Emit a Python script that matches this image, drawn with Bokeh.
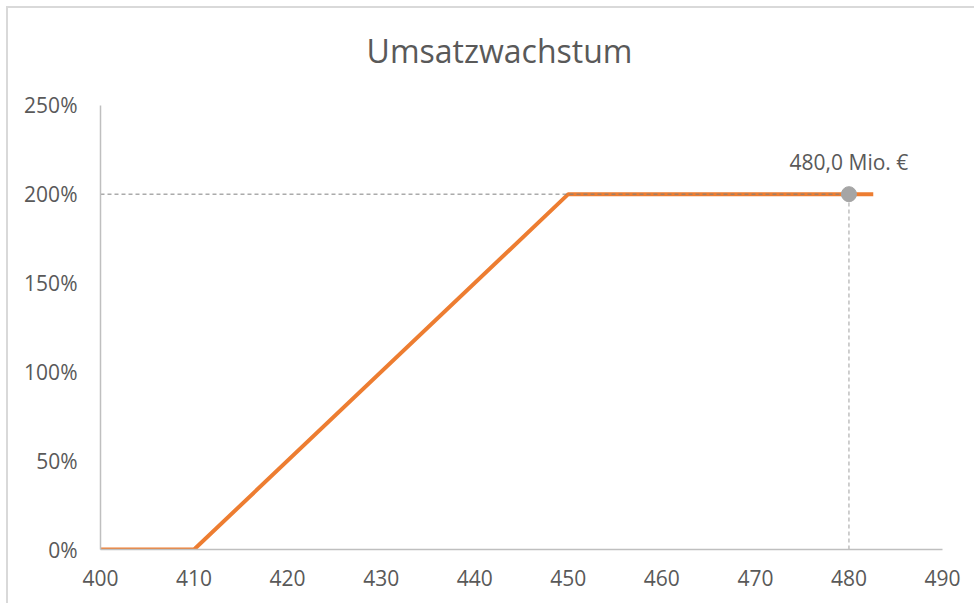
from bokeh.plotting import figure
from bokeh.models import Range1d, FixedTicker, NumeralTickFormatter, Label
from bokeh.embed import file_html
from bokeh.resources import INLINE

# data
title_text = "Umsatzwachstum"
growth_x = [400, 410, 450, 482.6]          # Umsatz (Mio. €)
growth_y = [0.0, 0.0, 2.0, 2.0]            # Wachstum (Anteil)
marker_x = 480.0
marker_y = 2.0
x_ticks = [400, 410, 420, 430, 440, 450, 460, 470, 480, 490]
y_ticks = [0.0, 0.5, 1.0, 1.5, 2.0, 2.5]

FONT = "Open Sans"
TXT = "#595959"
ORANGE = "#ED7D31"
GREY = "#A5A5A5"

# the plot area reaches above the 250% tick so the title can sit inside it
Y_TOP = 3.0

p = figure(width=968, height=597, output_backend="svg", toolbar_location=None,
           x_range=Range1d(x_ticks[0], x_ticks[-1]), y_range=Range1d(y_ticks[0], Y_TOP),
           min_border_left=92, min_border_right=34, min_border_top=8, min_border_bottom=56)
p.margin = (6, 0, 0, 6)
p.styles = {"border-left": "2px solid #D9D9D9", "border-top": "2px solid #D9D9D9"}
p.outline_line_color = None
p.background_fill_color = "white"
p.border_fill_color = "white"
p.xgrid.visible = False
p.ygrid.visible = False

for ax in (p.xaxis[0], p.yaxis[0]):
    ax.axis_line_color = "#BFBFBF"
    ax.axis_line_width = 1.5
    ax.major_tick_line_color = None
    ax.minor_tick_line_color = None
    ax.major_tick_out = 0
    ax.major_tick_in = 0
    ax.major_label_text_font = FONT
    ax.major_label_text_font_size = "21px"
    ax.major_label_text_color = TXT

p.xaxis.ticker = FixedTicker(ticks=x_ticks)
p.yaxis.ticker = FixedTicker(ticks=y_ticks)
p.yaxis.bounds = (y_ticks[0], y_ticks[-1])
p.yaxis.formatter = NumeralTickFormatter(format="0%")
p.xaxis.major_label_standoff = 20
p.yaxis.major_label_standoff = 23

# chart title
p.add_layout(Label(x=(x_ticks[0] + x_ticks[-1]) / 2, y=y_ticks[-1], text=title_text,
                   text_font=FONT, text_font_size="32px", text_color=TXT,
                   text_align="center", text_baseline="middle",
                   x_offset=-22, y_offset=55))

# growth line
p.line(growth_x, growth_y, line_color=ORANGE, line_width=4)

# drop lines to the marked point
p.line([x_ticks[0], marker_x], [marker_y, marker_y], line_color="#808080",
       line_width=1, line_dash="4 3")
p.line([marker_x, marker_x], [y_ticks[0], marker_y], line_color="#BFBFBF",
       line_width=1.5, line_dash="4 3")

p.scatter([marker_x], [marker_y], size=15, fill_color=GREY, line_color=GREY)

label_text = f"{marker_x:.1f}".replace(".", ",") + " Mio. €"
p.add_layout(Label(x=marker_x, y=marker_y, text=label_text, text_font=FONT,
                   text_font_size="21px", text_color=TXT, text_align="center",
                   text_baseline="middle", y_offset=32))

open("out.html", "w").write(file_html(p, INLINE))
